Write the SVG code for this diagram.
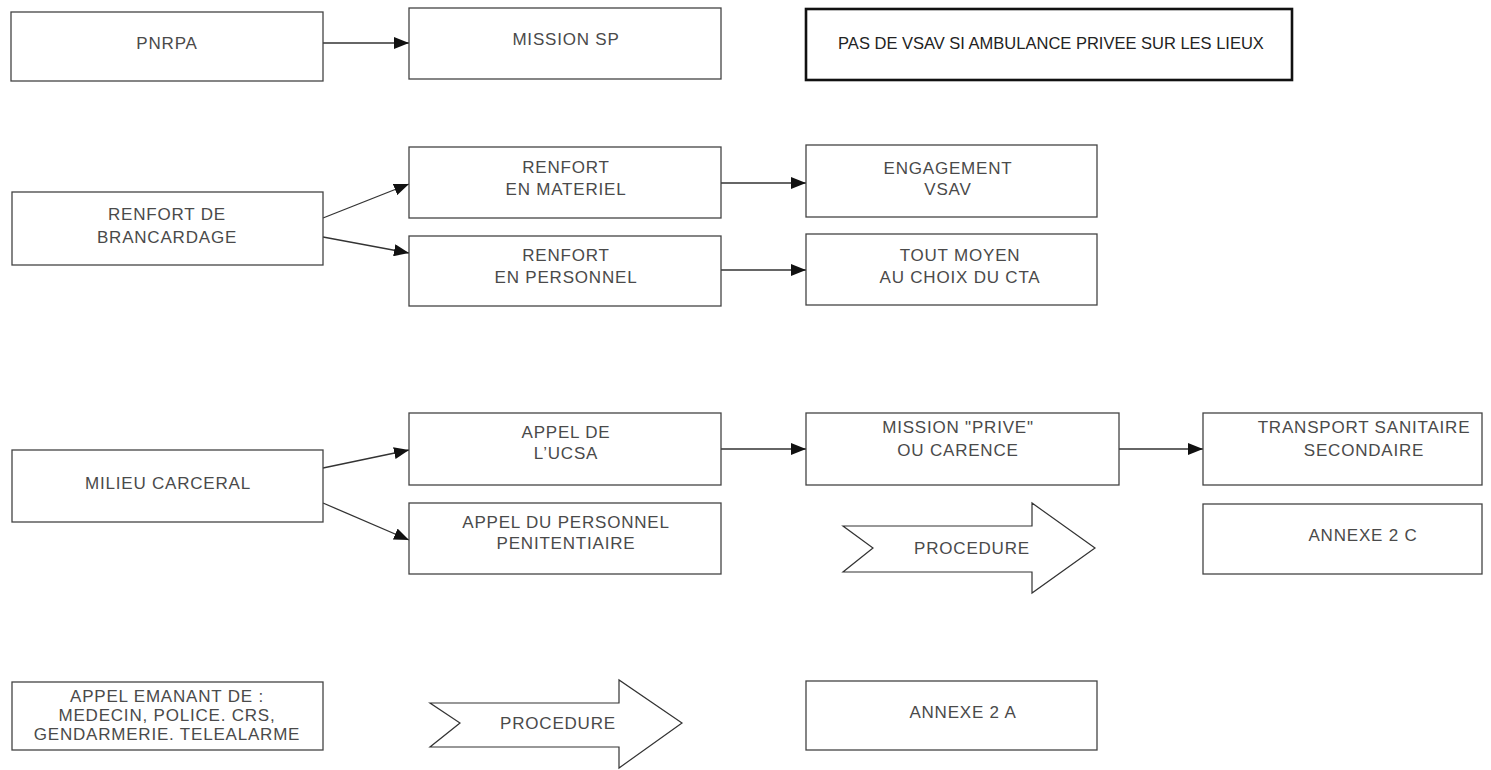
<svg xmlns="http://www.w3.org/2000/svg" width="1491" height="770" viewBox="0 0 1491 770">
<style>
.box{fill:#fff;stroke:#444;stroke-width:1.3}
.thick{fill:#fff;stroke:#111;stroke-width:2.6}
.t{font-family:"Liberation Sans",Arial,sans-serif;font-size:17px;letter-spacing:0.8px;fill:#4a4a4a;text-anchor:middle}
.t2{font-family:"Liberation Sans",Arial,sans-serif;font-size:16.5px;fill:#222;text-anchor:middle}
.c{stroke:#333;stroke-width:1.3;fill:none;marker-end:url(#ah)}
.proc{fill:#fff;stroke:#333;stroke-width:1.2}
</style>
<defs>
<marker id="ah" markerUnits="userSpaceOnUse" markerWidth="16" markerHeight="12" refX="15" refY="6" orient="auto">
<path d="M0,0 L15,6 L0,12 Z" fill="#111"/>
</marker>
</defs>
<rect width="1491" height="770" fill="#fff"/>
<g id="connectors">
<line class="c" x1="323" y1="43" x2="409" y2="43"/>
<line class="c" x1="323" y1="218" x2="409" y2="184"/>
<line class="c" x1="323" y1="237" x2="409" y2="253"/>
<line class="c" x1="721" y1="183" x2="806" y2="183"/>
<line class="c" x1="721" y1="270" x2="806" y2="270"/>
<line class="c" x1="323" y1="468" x2="409" y2="450"/>
<line class="c" x1="323" y1="503" x2="409" y2="540"/>
<line class="c" x1="721" y1="449" x2="806" y2="449"/>
<line class="c" x1="1119" y1="449" x2="1203" y2="449"/>
</g>
<g id="n_pnrpa"><rect class="box" x="11" y="12" width="312" height="69"/><text class="t" x="167" y="49">PNRPA</text></g>
<g id="n_mission_sp"><rect class="box" x="409" y="8" width="312" height="71"/><text class="t" x="566" y="45">MISSION SP</text></g>
<g id="n_pas_vsav"><rect class="thick" x="806" y="9" width="486" height="71"/><text class="t2" x="1051" y="49">PAS DE VSAV SI AMBULANCE PRIVEE SUR LES LIEUX</text></g>
<g id="n_brancardage"><rect class="box" x="12" y="192" width="311" height="73"/><text class="t" x="167" y="220">RENFORT DE</text><text class="t" x="167" y="243">BRANCARDAGE</text></g>
<g id="n_materiel"><rect class="box" x="409" y="147" width="312" height="71"/><text class="t" x="566" y="173">RENFORT</text><text class="t" x="566" y="195">EN MATERIEL</text></g>
<g id="n_personnel"><rect class="box" x="409" y="236" width="312" height="70"/><text class="t" x="566" y="261">RENFORT</text><text class="t" x="566" y="283">EN PERSONNEL</text></g>
<g id="n_engagement"><rect class="box" x="806" y="145" width="291" height="72"/><text class="t" x="948" y="174">ENGAGEMENT</text><text class="t" x="948" y="195">VSAV</text></g>
<g id="n_tout_moyen"><rect class="box" x="806" y="234" width="291" height="71"/><text class="t" x="960" y="261">TOUT  MOYEN</text><text class="t" x="960" y="283">AU CHOIX DU CTA</text></g>
<g id="n_carceral"><rect class="box" x="12" y="450" width="311" height="72"/><text class="t" x="168" y="489">MILIEU CARCERAL</text></g>
<g id="n_ucsa"><rect class="box" x="409" y="413" width="312" height="72"/><text class="t" x="566" y="438">APPEL DE</text><text class="t" x="566" y="459">L’UCSA</text></g>
<g id="n_penit"><rect class="box" x="409" y="503" width="312" height="71"/><text class="t" x="566" y="528">APPEL DU  PERSONNEL</text><text class="t" x="566" y="549">PENITENTIAIRE</text></g>
<g id="n_prive"><rect class="box" x="806" y="413" width="313" height="72"/><text class="t" x="958" y="433">MISSION "PRIVE"</text><text class="t" x="958" y="456">OU CARENCE</text></g>
<g id="n_transport"><rect class="box" x="1203" y="413" width="279" height="72"/><text class="t" x="1364" y="433">TRANSPORT SANITAIRE</text><text class="t" x="1364" y="456">SECONDAIRE</text></g>
<g id="n_annexe2c"><rect class="box" x="1203" y="504" width="279" height="70"/><text class="t" x="1363" y="541">ANNEXE 2 C</text></g>
<g id="n_procedure1"><polygon class="proc" points="843,526 1032,526 1032,503 1095,548 1032,593 1032,572 843,572 873,548"/><text class="t" x="972" y="554">PROCEDURE</text></g>
<g id="n_emanant"><rect class="box" x="12" y="682" width="311" height="68"/><text class="t" x="167" y="702">APPEL EMANANT DE :</text><text class="t" x="167" y="721">MEDECIN, POLICE. CRS,</text><text class="t" x="167" y="740">GENDARMERIE. TELEALARME</text></g>
<g id="n_procedure2"><polygon class="proc" points="430,703 619,703 619,680 682,723 619,768 619,747 430,747 460,723"/><text class="t" x="558" y="729">PROCEDURE</text></g>
<g id="n_annexe2a"><rect class="box" x="806" y="681" width="291" height="69"/><text class="t" x="963" y="718">ANNEXE 2 A</text></g>
</svg>
